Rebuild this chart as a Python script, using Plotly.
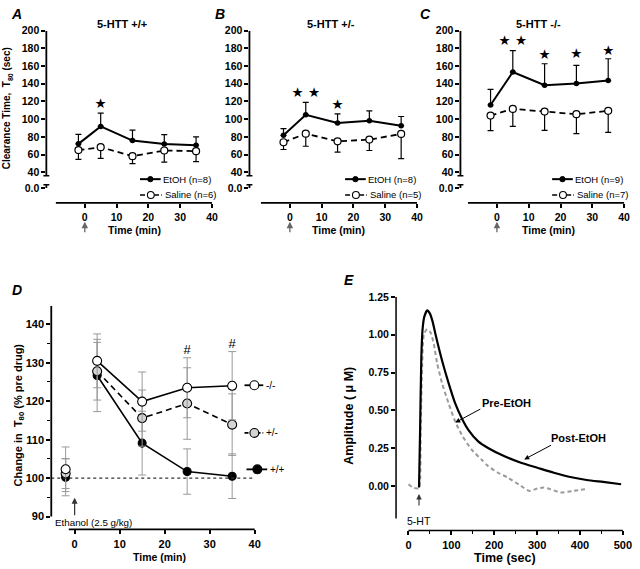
import plotly.graph_objects as go

W, H = 640, 569
FONT = "Liberation Sans, Arial, sans-serif"

# ---------------- data: panels A-C (clearance time, sec) ----------------
abc_time = [-2, 5, 15, 25, 35]

a_etoh = [72.1, 91.8, 75.8, 72.0, 70.5]
a_etoh_sem = [10.7, 15.0, 11.9, 10.5, 9.4]
a_saline = [65.0, 68.3, 58.2, 64.6, 63.8]
a_saline_sem = [10.5, 12.6, 8.5, 13.1, 11.8]
a_star_time = [5]
a_star_y = [117]
a_star_text = ["★"]

b_etoh = [81.7, 104.9, 95.6, 98.2, 92.6]
b_etoh_sem = [7.5, 14.2, 10.4, 11.2, 10.4]
b_saline = [73.9, 83.6, 75.0, 76.9, 83.3]
b_saline_sem = [8.2, 14.2, 12.3, 12.3, 28.0]
b_star_time = [5, 15]
b_star_y = [129, 115.3]
b_star_text = ["★ ★", "★"]

c_etoh = [116.0, 153.3, 138.5, 140.3, 143.7]
c_etoh_sem = [17.6, 24.2, 24.2, 20.5, 24.6]
c_saline = [104.1, 111.6, 108.6, 105.6, 109.4]
c_saline_sem = [17.1, 19.8, 21.3, 22.0, 24.3]
c_star_time = [5, 15, 25, 35]
c_star_y = [188, 172, 172.8, 176.8]
c_star_text = ["★ ★", "★", "★", "★"]

abc_titles = ["5-HTT +/+", "5-HTT +/-", "5-HTT -/-"]
abc_legends = [["EtOH (n=8)", "Saline (n=6)"],
               ["EtOH (n=8)", "Saline (n=5)"],
               ["EtOH (n=9)", "Saline (n=7)"]]
abc_ytickvals = [22.1, 40, 60, 80, 100, 120, 140, 160, 180, 200]
abc_yticktext = ["0.0", "40", "60", "80", "100", "120", "140", "160", "180", "200"]
abc_xticks = [0, 10, 20, 30, 40]

# ---------------- data: panel D (% pre drug) ----------------
d_pre_time = [-2]
d_time = [5, 15, 25, 35]
d_ko_pre, d_ko_pre_sem = [102.3], [5.8]
d_ko = [130.5, 119.9, 123.5, 124.0]
d_ko_sem = [7.0, 7.7, 7.8, 8.9]
d_het_pre, d_het_pre_sem = [101.2], [3.9]
d_het = [127.8, 115.6, 119.4, 113.9]
d_het_sem = [7.5, 7.3, 9.3, 8.0]
d_wt_pre, d_wt_pre_sem = [100.2], [4.8]
d_wt = [126.7, 109.1, 101.7, 100.5]
d_wt_sem = [9.4, 8.3, 5.9, 5.8]
d_hash_time = [25, 35]
d_hash_y = [133.2, 134.6]
d_labels = ["-/-", "+/-", "+/+"]
d_yticks = [90, 100, 110, 120, 130, 140]
d_yminor = [95, 105, 115, 125, 135]
d_xticks = [0, 10, 20, 30, 40]

# ---------------- data: panel E (amplitude, uM) ----------------
e_post_t = [24.6, 27, 30, 33, 37, 43.8, 50, 56, 63, 78.3, 93.6, 109, 124.3, 139.6,
            162.6, 185.6, 224, 262.3, 300.6, 339, 377.3, 415.7, 454, 496.1]
e_post_v = [-0.011, 0.35, 0.85, 1.04, 1.12, 1.161, 1.14, 1.09, 1.004, 0.83, 0.68, 0.546,
            0.448, 0.371, 0.295, 0.251, 0.196, 0.153, 0.12, 0.087, 0.059, 0.039, 0.026, 0.011]
e_pre_t = [0, 10, 20.8, 25, 28.4, 32, 36.1, 43.8, 51.5, 59.2, 66.9, 78.3, 93.6, 109, 124.3,
           147.3, 170.3, 185.6, 208.6, 231.6, 262.3, 281.5, 300.6, 316, 331.3, 354.3, 385, 411.8]
e_pre_v = [0.011, -0.01, -0.018, -0.015, 0.37, 0.8, 1.004, 1.037, 1.015, 0.938, 0.81, 0.68,
           0.546, 0.426, 0.338, 0.24, 0.175, 0.131, 0.087, 0.055, 0.0, -0.033, -0.018, -0.011,
           -0.022, -0.044, -0.033, -0.022]
e_xticks = [0, 100, 200, 300, 400, 500]
e_xminor = [50, 150, 250, 350, 450]
e_yticks = [0.0, 0.25, 0.5, 0.75, 1.0, 1.25]
e_yticktext = ["0.00", "0.25", "0.50", "0.75", "1.00", "1.25"]


def xp(px):
    return px / W


def yp(py):
    return 1 - py / H


def txt(x, y, text, size, bold=False, italic=False, angle=0, xanchor="center"):
    font = dict(family=FONT, size=size, color="black")
    if bold:
        font["weight"] = "bold"
    if italic:
        font["style"] = "italic"
    return dict(x=xp(x), y=yp(y), xref="paper", yref="paper", text=text, showarrow=False,
                xanchor=xanchor, yanchor="middle", textangle=angle, font=font,
                borderpad=0)


fig = go.Figure()
shapes = []
annotations = []

tickfont = dict(family=FONT, size=10.5, color="black", weight="bold")
base_axis = dict(showline=False, showgrid=False, zeroline=False, ticks="outside",
                 ticklen=4, tickwidth=1.5, tickcolor="black", tickfont=tickfont, fixedrange=True)

# ---------------- panels A-C ----------------
abc_left = [47, 253, 467]          # pixel position of y axis
abc_right = [215, 423, 633]        # pixel position of x = 40
abc_title_x = [123.5, 336, 546]
abc_xtitle_x = [136, 343.5, 556]
abc_letter_x = [17, 223, 432]
abc_letters = ["A", "B", "C"]
abc_data = [
    (a_etoh, a_etoh_sem, a_saline, a_saline_sem, a_star_time, a_star_y, a_star_text),
    (b_etoh, b_etoh_sem, b_saline, b_saline_sem, b_star_time, b_star_y, b_star_text),
    (c_etoh, c_etoh_sem, c_saline, c_saline_sem, c_star_time, c_star_y, c_star_text),
]
PXMIN = 3.225   # px per minute
top_px, bot_px = 25, 199
y_per_px = 20 / 17.875
for i in range(3):
    n = "" if i == 0 else str(i + 1)
    L, R = abc_left[i], abc_right[i]
    xmin = 40 - (R - L) / PXMIN
    ymin = 40 - (bot_px - 168) * y_per_px
    fig.update_layout(**{
        "xaxis" + n: dict(base_axis, domain=[xp(L), xp(R)], range=[xmin, 40],
                          tickvals=abc_xticks, anchor="y" + n),
        "yaxis" + n: dict(base_axis, domain=[yp(bot_px), yp(top_px)], range=[ymin, 200],
                          tickvals=abc_ytickvals, ticktext=abc_yticktext, anchor="x" + n),
    })
    et, et_sem, sa, sa_sem, st_t, st_y, st_txt = abc_data[i]
    fig.add_trace(go.Scatter(
        x=abc_time, y=sa, mode="lines+markers", xaxis="x" + n, yaxis="y" + n,
        line=dict(color="black", width=1.8, dash="6px,4px"),
        marker=dict(symbol="circle", size=7, color="white", line=dict(color="black", width=1.2)),
        error_y=dict(type="data", symmetric=False, array=[0] * 5, arrayminus=sa_sem,
                     color="black", thickness=1.2, width=3),
        showlegend=False, hoverinfo="skip"))
    fig.add_trace(go.Scatter(
        x=abc_time, y=et, mode="lines+markers", xaxis="x" + n, yaxis="y" + n,
        line=dict(color="black", width=2),
        marker=dict(symbol="circle", size=5.5, color="black"),
        error_y=dict(type="data", symmetric=False, array=et_sem, arrayminus=[0] * 5,
                     color="black", thickness=1.2, width=3),
        showlegend=False, hoverinfo="skip"))
    fig.add_trace(go.Scatter(
        x=st_t, y=st_y, mode="text", text=st_txt, xaxis="x" + n, yaxis="y" + n,
        textfont=dict(family="DejaVu Sans", size=13.5, color="black"),
        showlegend=False, hoverinfo="skip"))

    # axis lines (broken y axis)
    shapes.append(dict(type="line", xref="paper", yref="y" + n, x0=xp(L), x1=xp(L),
                       y0=35.9, y1=200, line=dict(color="black", width=1.8)))
    shapes.append(dict(type="line", xref="paper", yref="y" + n, x0=xp(L - 3), x1=xp(L + 3),
                       y0=35.9, y1=35.9, line=dict(color="black", width=1.5)))
    shapes.append(dict(type="line", xref="paper", yref="y" + n, x0=xp(L - 3), x1=xp(L + 3),
                       y0=25.8, y1=25.8, line=dict(color="black", width=1.5)))
    shapes.append(dict(type="line", xref="paper", yref="y" + n, x0=xp(L), x1=xp(L),
                       y0=22.1, y1=25.8, line=dict(color="black", width=1.8)))
    shapes.append(dict(type="line", xref="x" + n, yref="paper", x0=-9.1, x1=40.5,
                       y0=yp(bot_px), y1=yp(bot_px), line=dict(color="black", width=1.8)))

    # legend glyphs
    ly1, ly2 = 175, 191
    shapes.append(dict(type="line", xref="paper", yref="paper", x0=xp(R - 73), x1=xp(R - 52),
                       y0=yp(ly1), y1=yp(ly1), line=dict(color="black", width=2)))
    shapes.append(dict(type="circle", xref="paper", yref="paper",
                       x0=xp(R - 62.5 - 2.7), x1=xp(R - 62.5 + 2.7),
                       y0=yp(ly1 + 2.7), y1=yp(ly1 - 2.7),
                       fillcolor="black", line=dict(color="black", width=1)))
    shapes.append(dict(type="line", xref="paper", yref="paper", x0=xp(R - 73), x1=xp(R - 51),
                       y0=yp(ly2), y1=yp(ly2), line=dict(color="black", width=1.5, dash="5px,2px")))
    shapes.append(dict(type="circle", xref="paper", yref="paper",
                       x0=xp(R - 62 - 3.5), x1=xp(R - 62 + 3.5),
                       y0=yp(ly2 + 3.5), y1=yp(ly2 - 3.5),
                       fillcolor="white", line=dict(color="black", width=1.1)))
    annotations.append(txt(R - 51, ly1, abc_legends[i][0], 9.5, xanchor="left"))
    annotations.append(txt(R - 48.5, ly2, abc_legends[i][1], 9.5, xanchor="left"))
    annotations.append(txt(abc_title_x[i], 18.3, abc_titles[i], 11, bold=True))
    annotations.append(txt(abc_xtitle_x[i], 226.5, "Time (min)", 10.5, bold=True))
    annotations.append(txt(abc_letter_x[i], 8.5, abc_letters[i], 14, bold=True, italic=True))
    annotations.append(dict(x=0, y=yp(218), xref="x" + n, yref="paper", ax=0, ay=12,
                            text="", showarrow=True, arrowhead=2, arrowsize=1, arrowwidth=1.3,
                            arrowcolor="#666666"))

annotations.append(txt(7.5, 103, "Clearance Time,  T<sub>80</sub> (sec)", 10, bold=True, angle=-90))

# ---------------- panel D ----------------
DL, DR = 52, 305
d_px_per_min = (258.3 - 75.7) / 40
d_xmin = -(75.7 - DL) / d_px_per_min
d_xmax = (DR - 75.7) / d_px_per_min
d_top, d_bot = 303, 529
d_px_per_unit = (516 - 321.7) / 50
d_ymax = 90 + (516 - d_top) / d_px_per_unit
d_ymin = 90 - (d_bot - 516) / d_px_per_unit
fig.update_layout(
    xaxis4=dict(base_axis, domain=[xp(DL), xp(DR)], range=[d_xmin, d_xmax], tickvals=d_xticks,
                anchor="y4", tickfont=dict(tickfont, size=11)),
    yaxis4=dict(base_axis, domain=[yp(d_bot), yp(d_top)], range=[d_ymin, d_ymax], tickvals=d_yticks,
                anchor="x4", tickfont=dict(tickfont, size=11),
                minor=dict(tickvals=d_yminor, ticks="outside", ticklen=3, tickwidth=1.2, tickcolor="black")),
)
shapes.append(dict(type="line", xref="x4", yref="y4", x0=d_xmin, x1=40, y0=100, y1=100,
                   line=dict(color="#333", width=1.4, dash="dot")))
d_series = [
    (d_wt_pre, d_wt_pre_sem, d_wt, d_wt_sem, "black", 8, "solid"),
    (d_het_pre, d_het_pre_sem, d_het, d_het_sem, "#d4d4d4", 9, "6px,4px"),
    (d_ko_pre, d_ko_pre_sem, d_ko, d_ko_sem, "white", 9, "solid"),
]
for pre, pre_sem, vals, sem, fill, msize, dash in d_series:
    fig.add_trace(go.Scatter(
        x=d_time, y=vals, mode="lines+markers", xaxis="x4", yaxis="y4",
        line=dict(color="black", width=1.6, dash=dash),
        marker=dict(symbol="circle", size=msize, color=fill, line=dict(color="black", width=1.1)),
        error_y=dict(type="data", array=sem, color="#9a9a9a", thickness=1, width=4),
        showlegend=False, hoverinfo="skip"))
    fig.add_trace(go.Scatter(
        x=d_pre_time, y=pre, mode="markers", xaxis="x4", yaxis="y4",
        marker=dict(symbol="circle", size=msize, color=fill, line=dict(color="black", width=1.1)),
        error_y=dict(type="data", array=pre_sem, color="#9a9a9a", thickness=1, width=4),
        showlegend=False, hoverinfo="skip"))
fig.add_trace(go.Scatter(
    x=d_hash_time, y=d_hash_y, mode="text", text=["#"] * len(d_hash_time), xaxis="x4", yaxis="y4",
    textfont=dict(family=FONT, size=13, color="black"), showlegend=False, hoverinfo="skip"))
# axis lines
shapes.append(dict(type="line", xref="paper", yref="y4", x0=xp(DL), x1=xp(DL), y0=90, y1=d_ymax,
                   line=dict(color="black", width=1.8)))
shapes.append(dict(type="line", xref="x4", yref="paper", x0=-1.3, x1=40, y0=yp(d_bot), y1=yp(d_bot),
                   line=dict(color="black", width=1.8)))
# legend glyphs
d_leg = [(d_labels[0], 383.3, "white", 258, 248, 267, "solid"),
         (d_labels[1], 431.5, "#d4d4d4", 258, 248, 267, "4px,2px"),
         (d_labels[2], 468.3, "black", 261, 250, 271, "solid")]
for lab, ly, fill, cx, lx0, lx1, dash in d_leg:
    shapes.append(dict(type="line", xref="paper", yref="paper", x0=xp(lx0), x1=xp(lx1),
                       y0=yp(ly), y1=yp(ly), line=dict(color="black", width=1.8, dash=dash)))
    shapes.append(dict(type="circle", xref="paper", yref="paper", x0=xp(cx - 4.5), x1=xp(cx + 4.5),
                       y0=yp(ly + 4.5), y1=yp(ly - 4.5), fillcolor=fill,
                       line=dict(color="black", width=1.1)))
    annotations.append(txt(lx1 + 1.5, ly, lab, 10, xanchor="left"))
annotations += [
    txt(55, 521.7, "Ethanol (2.5 g/kg)", 9.8, xanchor="left"),
    dict(x=0, y=94.9, xref="x4", yref="y4", ax=0, ay=19, text="", showarrow=True, arrowhead=2,
         arrowsize=1, arrowwidth=1.2, arrowcolor="#333333"),
    txt(161.7, 556.7, "Time (min)", 10.5, bold=True),
    txt(19, 413, "Change in  T<sub>80</sub> (% pre drug)", 11, bold=True, angle=-90),
    txt(17, 287, "D", 14, bold=True, italic=True),
]

# ---------------- panel E ----------------
EL, ER = 401.7, 632
e_px_per_sec = (631.7 - 414.3) / 500
e_xmin = -(414.3 - EL) / e_px_per_sec
e_xmax = 500 + (ER - 631.7) / e_px_per_sec
e_top, e_bot = 290, 530
e_px_per_unit = (485 - 294.1) / 1.25
e_ymax = (485 - e_top) / e_px_per_unit
e_ymin = -(e_bot - 485) / e_px_per_unit
fig.update_layout(
    xaxis5=dict(base_axis, domain=[xp(EL), xp(ER)], range=[e_xmin, e_xmax], tickvals=e_xticks,
                anchor="y5", tickfont=dict(tickfont, size=11),
                minor=dict(tickvals=e_xminor, ticks="outside", ticklen=3, tickwidth=1.2, tickcolor="black")),
    yaxis5=dict(base_axis, domain=[yp(e_bot), yp(e_top)], range=[e_ymin, e_ymax], tickvals=e_yticks,
                ticktext=e_yticktext, anchor="x5", tickfont=dict(tickfont, size=10.5)),
)
fig.add_trace(go.Scatter(x=e_pre_t, y=e_pre_v, mode="lines", xaxis="x5", yaxis="y5",
                         line=dict(color="#9a9a9a", width=2, dash="4px,3px", shape="spline", smoothing=0.6),
                         showlegend=False, hoverinfo="skip"))
fig.add_trace(go.Scatter(x=e_post_t, y=e_post_v, mode="lines", xaxis="x5", yaxis="y5",
                         line=dict(color="black", width=2.2, shape="spline", smoothing=0.6),
                         showlegend=False, hoverinfo="skip"))
shapes.append(dict(type="line", xref="paper", yref="y5", x0=xp(EL), x1=xp(EL),
                   y0=-(518 - 485) / e_px_per_unit, y1=1.25, line=dict(color="black", width=1.5)))
shapes.append(dict(type="line", xref="x5", yref="paper", x0=0, x1=500, y0=yp(e_bot), y1=yp(e_bot),
                   line=dict(color="black", width=1.5)))
annotations += [
    dict(x=109, y=0.419, xref="x5", yref="y5", ax=26.6, ay=-14.3, text="", showarrow=True,
         arrowhead=2, arrowsize=1, arrowwidth=1, arrowcolor="black"),
    dict(x=270, y=0.175, xref="x5", yref="y5", ax=28.3, ay=-15, text="", showarrow=True,
         arrowhead=2, arrowsize=1, arrowwidth=1, arrowcolor="black"),
    txt(513.5, 401.7, "Pre-EtOH", 11, bold=True),
    txt(586.5, 436.7, "Post-EtOH", 11, bold=True),
    dict(x=24.6, y=-0.054, xref="x5", yref="y5", ax=0, ay=13, text="", showarrow=True,
         arrowhead=2, arrowsize=1, arrowwidth=1.1, arrowcolor="#333333"),
    txt(424.5, 520.5, "5-HT", 10.5),
    txt(512.5, 558.3, "Time (sec)", 12.5, bold=True),
    txt(354, 414, "Amplitude ( μ M)", 12.5, bold=True, angle=-90),
    txt(354, 277, "E", 14, bold=True, italic=True),
]

fig.update_layout(
    width=W, height=H, autosize=False,
    margin=dict(l=0, r=0, t=0, b=0),
    paper_bgcolor="white", plot_bgcolor="rgba(0,0,0,0)",
    font=dict(family=FONT, color="black"),
    shapes=shapes, annotations=annotations, showlegend=False,
)
fig.write_html("out.html", config={"displayModeBar": False},
               post_script="document.body.style.margin='0';document.body.style.overflow='hidden';")
